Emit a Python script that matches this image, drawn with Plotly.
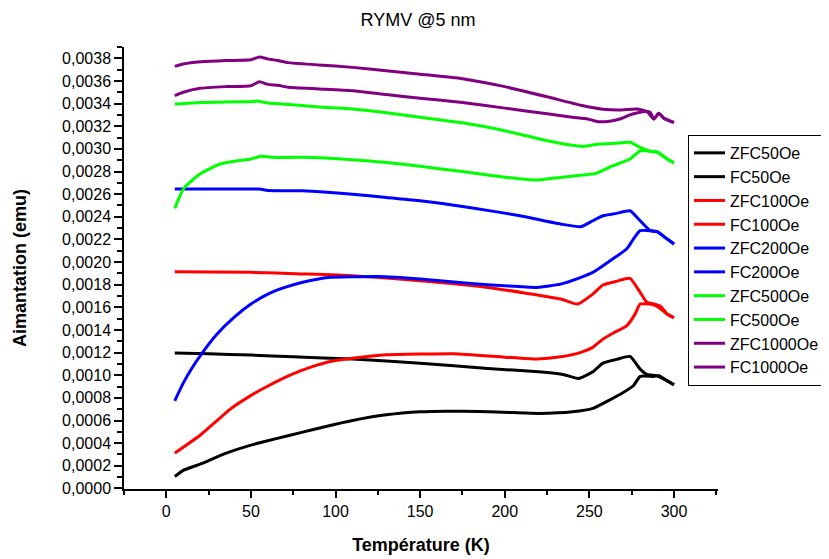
import plotly.graph_objects as go

# ---- data ----
T_zfc50 = [5, 10, 20, 35, 50, 65, 80, 95, 110, 130, 150, 165, 185, 205, 220, 240, 252, 261, 270, 276, 280, 288, 291, 296, 300]
M_zfc50 = [0.000106, 0.00016, 0.000215, 0.00031, 0.000383, 0.00044, 0.000495, 0.00055, 0.0006, 0.00065, 0.000677, 0.000683,
           0.00068, 0.00067, 0.000663, 0.000677, 0.000707, 0.000774, 0.000848, 0.000907, 0.00099, 0.00099, 0.000995, 0.00095, 0.000916]

T_fc50 = [5, 25, 50, 75, 110, 150, 190, 220, 235, 243.5, 252, 258, 266, 274, 280, 284, 290, 296, 300]
M_fc50 = [0.001196, 0.00119, 0.001178, 0.001163, 0.001143, 0.001106, 0.00106, 0.00103, 0.001005, 0.000972, 0.00103,
          0.001107, 0.00114, 0.001166, 0.001054, 0.001007, 0.000995, 0.00095, 0.000916]

T_zfc100 = [5, 20, 30, 37.8, 49.6, 59.5, 69.3, 79.2, 89, 97, 110, 130, 150, 170, 200, 219, 233, 245, 252, 258, 265, 272,
            277, 280, 286, 290, 296, 300]
M_zfc100 = [0.000312, 0.00047, 0.0006, 0.000701, 0.000818, 0.000901, 0.000975, 0.001039, 0.00109, 0.001122, 0.00115,
            0.00118, 0.001187, 0.00119, 0.00116, 0.001143, 0.001163, 0.001202, 0.001246, 0.001319, 0.00138, 0.001437,
            0.00154, 0.001629, 0.001629, 0.001608, 0.00154, 0.001508]

T_fc100 = [5, 50, 80, 110, 150, 190, 233, 243, 252, 258, 266, 274, 280, 284, 288, 292, 296, 300]
M_fc100 = [0.001914, 0.001909, 0.001895, 0.001879, 0.001835, 0.001776, 0.001673, 0.001629, 0.001717, 0.001797, 0.00183,
           0.001856, 0.001732, 0.001644, 0.00163, 0.00161, 0.00154, 0.001508]

T_zfc200 = [5, 10, 15, 20, 30, 40, 50, 60, 70, 80, 90, 97, 110, 125, 150, 180, 200, 219, 233, 245, 252, 258, 265, 272,
            276, 280, 286, 290, 296, 300]
M_zfc200 = [0.000774, 0.00093, 0.00106, 0.001172, 0.001364, 0.001511, 0.001629, 0.001717, 0.001776, 0.00182, 0.00185,
            0.001865, 0.00187, 0.001872, 0.00185, 0.00181, 0.00179, 0.001776, 0.001805, 0.001865, 0.001909, 0.001967,
            0.00204, 0.002115, 0.002203, 0.002277, 0.002277, 0.002268, 0.002203, 0.002159]

T_fc200 = [5, 30, 55, 60, 80, 110, 130, 150, 180, 209, 233, 245, 252, 258, 266, 274, 280, 286, 290, 296, 300]
M_fc200 = [0.002645, 0.002645, 0.002645, 0.002632, 0.00263, 0.0026, 0.00257, 0.002542, 0.00248, 0.002409, 0.002336,
           0.002312, 0.002365, 0.002409, 0.00243, 0.002453, 0.002365, 0.002277, 0.002268, 0.002203, 0.002159]

T_zfc500 = [5, 10, 15, 20, 30, 40, 50, 55.6, 62, 80, 110, 130, 150, 175, 200, 219, 233, 246, 254, 264, 274, 280, 286,
            290, 296, 300]
M_zfc500 = [0.002474, 0.002645, 0.00272, 0.002778, 0.002857, 0.00289, 0.00291, 0.002935, 0.002925, 0.002925, 0.002904,
            0.00288, 0.002846, 0.0028, 0.00275, 0.002724, 0.002748, 0.002769, 0.002784, 0.002851, 0.00291, 0.002983,
            0.00298, 0.002975, 0.00291, 0.002875]

T_fc500 = [5, 20, 35, 50, 54, 59, 70, 90, 110, 130, 150, 175, 200, 225, 246, 256, 265, 274, 280, 286, 290, 296, 300]
M_fc500 = [0.003396, 0.00341, 0.003415, 0.003417, 0.003422, 0.003408, 0.003395, 0.00337, 0.003352, 0.00332, 0.003279,
           0.00323, 0.00316, 0.003072, 0.003022, 0.003043, 0.00305, 0.003058, 0.003013, 0.002978, 0.002969, 0.00291,
           0.002875]

T_zfc1000 = [5, 10, 20, 35, 50, 55, 60, 66, 72, 90, 110, 130, 150, 175, 200, 225, 240, 249, 255, 262, 268, 274, 278,
             284, 286, 288, 291, 294, 297, 300]
M_zfc1000 = [0.00347, 0.0035, 0.003535, 0.00355, 0.003558, 0.003593, 0.00357, 0.003562, 0.003544, 0.00353, 0.003514,
             0.00348, 0.003447, 0.00341, 0.00336, 0.00331, 0.00328, 0.003264, 0.00324, 0.003245, 0.003264, 0.0033,
             0.003317, 0.00333, 0.003323, 0.003264, 0.003314, 0.00327, 0.00325, 0.003234]

T_fc1000 = [5, 10, 20, 35, 50, 55, 60, 66, 72, 90, 110, 130, 150, 175, 200, 225, 245, 258, 268, 278, 284, 288, 291, 294,
            297, 300]
M_fc1000 = [0.003729, 0.00375, 0.00377, 0.00378, 0.003788, 0.003812, 0.003795, 0.00378, 0.003762, 0.003742, 0.00372,
            0.00369, 0.00366, 0.00362, 0.00355, 0.00346, 0.003385, 0.00335, 0.003343, 0.003352, 0.00333, 0.003264,
            0.003314, 0.00327, 0.00325, 0.003234]

series = [
    ("ZFC50Oe", T_zfc50, M_zfc50, "#000000"),
    ("FC50Oe", T_fc50, M_fc50, "#000000"),
    ("ZFC100Oe", T_zfc100, M_zfc100, "#FF0000"),
    ("FC100Oe", T_fc100, M_fc100, "#FF0000"),
    ("ZFC200Oe", T_zfc200, M_zfc200, "#0000FF"),
    ("FC200Oe", T_fc200, M_fc200, "#0000FF"),
    ("ZFC500Oe", T_zfc500, M_zfc500, "#00FF00"),
    ("FC500Oe", T_fc500, M_fc500, "#00FF00"),
    ("ZFC1000Oe", T_zfc1000, M_zfc1000, "#800080"),
    ("FC1000Oe", T_fc1000, M_fc1000, "#800080"),
]

FONT = "Liberation Sans, Arial, sans-serif"

fig = go.Figure()
for name, t, m, col in series:
    fig.add_trace(go.Scatter(x=t, y=m, name=name, mode="lines",
                             line=dict(color=col, width=3, shape="spline", smoothing=0.5)))

# page has an 8px body margin: figure is drawn 8px in from the top/left
W, H = 829, 559
L, T = 116, 39
R, B = W - 710, H - 481

fig.update_layout(
    width=W, height=H,
    margin=dict(l=L, r=R, t=T, b=B, autoexpand=False),
    paper_bgcolor="white", plot_bgcolor="white",
    separators=",.",
    font=dict(family=FONT, size=16, color="black"),
    title=dict(text="RYMV @5 nm", x=410 / W, xanchor="center", y=1 - 12 / H, yanchor="middle",
               font=dict(family=FONT, size=18, color="black")),
    showlegend=True,
    legend=dict(x=0.9495, y=0.801, xanchor="left", yanchor="top", bgcolor="white",
                bordercolor="black", borderwidth=1, font=dict(family=FONT, size=16, color="black"),
                tracegroupgap=0, itemwidth=31),
)

fig.update_xaxes(
    range=[-25, 326], tick0=0, dtick=50, showgrid=False, zeroline=False,
    showline=True, linecolor="black", linewidth=1.5, ticks="outside", ticklen=7, tickwidth=1.5, tickcolor="black",
    minor=dict(dtick=25, ticks="outside", ticklen=4, tickwidth=1.5, tickcolor="black", showgrid=False),
    tickfont=dict(family=FONT, size=16, color="black"),
    title=dict(text="<b>Température (K)</b>", font=dict(family=FONT, size=18, color="black"), standoff=19),
)
fig.update_yaxes(
    range=[-0.000005, 0.0039], tick0=0, dtick=0.0002, tickformat=".4f", showgrid=False, zeroline=False,
    showline=True, linecolor="black", linewidth=1.5, ticks="outside", ticklen=8, tickwidth=1.5, tickcolor="black",
    minor=dict(dtick=0.0001, ticks="outside", ticklen=5, tickwidth=1.5, tickcolor="black", showgrid=False),
    tickfont=dict(family=FONT, size=16, color="black"),
    title=dict(text="<b>Aimantation (emu)</b>", font=dict(family=FONT, size=18, color="black"), standoff=31),
)

fig.write_html("out.html")
